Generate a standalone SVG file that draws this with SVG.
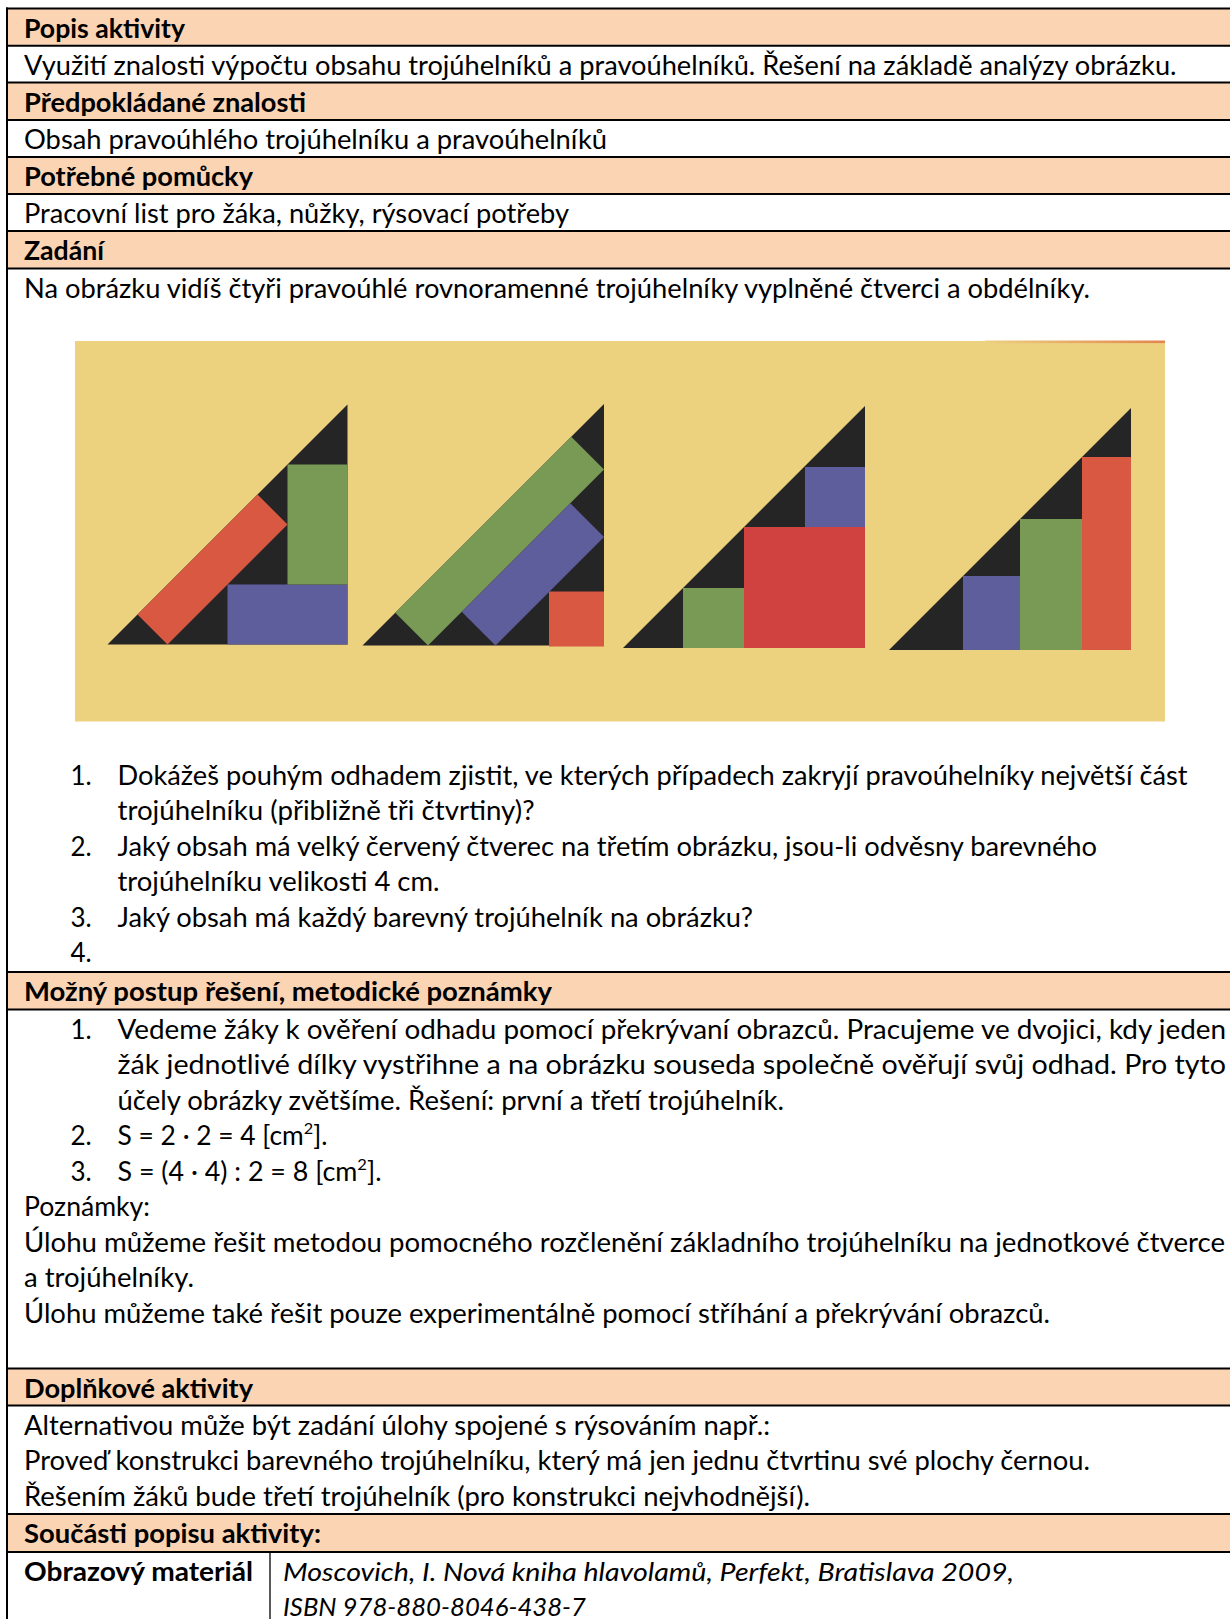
<svg xmlns="http://www.w3.org/2000/svg" width="1230" height="1619" viewBox="0 0 1230 1619">
<defs>
<style>
.t{font-family:Lato,"Liberation Sans",sans-serif;font-size:26px;fill:#000}
.h{font-family:Lato,"Liberation Sans",sans-serif;font-size:26px;font-weight:700;fill:#000}
.i{font-family:Lato,"Liberation Sans",sans-serif;font-size:26px;font-style:italic;fill:#000}
.hdr{fill:#FBD4B4}
.ln{stroke:#000;stroke-width:2;fill:none}
.blk{fill:#262526}
.g{fill:#789A55}
.b{fill:#5E5E9C}
.r{fill:#D85842}
</style>
<linearGradient id="topline" x1="0" y1="0" x2="1" y2="0">
<stop offset="0" stop-color="#ECD17F"/>
<stop offset="1" stop-color="#E2854E"/>
</linearGradient>
</defs>
<rect x="0" y="0" width="1230" height="1619" fill="#fff"/>

<g id="header-fills">
<rect class="hdr" x="7" y="8.5" width="1223" height="37.2"/>
<rect class="hdr" x="7" y="82.5" width="1223" height="37.5"/>
<rect class="hdr" x="7" y="157" width="1223" height="37"/>
<rect class="hdr" x="7" y="231" width="1223" height="37.5"/>
<rect class="hdr" x="7" y="972" width="1223" height="37.5"/>
<rect class="hdr" x="7" y="1368.5" width="1223" height="37"/>
<rect class="hdr" x="7" y="1514" width="1223" height="38"/>
</g>

<g id="table-lines">
<line class="ln" x1="7" y1="1619" x2="7" y2="7.5"/>
<line class="ln" x1="6" y1="8.5" x2="1230" y2="8.5"/>
<line class="ln" x1="6" y1="45.7" x2="1230" y2="45.7"/>
<line class="ln" x1="6" y1="82.5" x2="1230" y2="82.5"/>
<line class="ln" x1="6" y1="120" x2="1230" y2="120"/>
<line class="ln" x1="6" y1="157" x2="1230" y2="157"/>
<line class="ln" x1="6" y1="194" x2="1230" y2="194"/>
<line class="ln" x1="6" y1="231" x2="1230" y2="231"/>
<line class="ln" x1="6" y1="268.5" x2="1230" y2="268.5"/>
<line class="ln" x1="6" y1="972" x2="1230" y2="972"/>
<line class="ln" x1="6" y1="1009.5" x2="1230" y2="1009.5"/>
<line class="ln" x1="6" y1="1368.5" x2="1230" y2="1368.5"/>
<line class="ln" x1="6" y1="1405.5" x2="1230" y2="1405.5"/>
<line class="ln" x1="6" y1="1514" x2="1230" y2="1514"/>
<line class="ln" x1="6" y1="1552" x2="1230" y2="1552"/>
<line x1="270" y1="1552" x2="270" y2="1619" stroke="#000" stroke-width="1.3"/>
</g>

<g id="popis-aktivity">
<text class="h" x="24" y="37.5" textLength="161" lengthAdjust="spacingAndGlyphs">Popis aktivity</text>
<text class="t" x="24" y="74.7" textLength="1152.5" lengthAdjust="spacingAndGlyphs">Využití znalosti výpočtu obsahu trojúhelníků a pravoúhelníků. Řešení na základě analýzy obrázku.</text>
</g>

<g id="predpokladane-znalosti">
<text class="h" x="24" y="111.5" textLength="282" lengthAdjust="spacingAndGlyphs">Předpokládané znalosti</text>
<text class="t" x="24" y="149" textLength="583" lengthAdjust="spacingAndGlyphs">Obsah pravoúhlého trojúhelníku a pravoúhelníků</text>
</g>

<g id="potrebne-pomucky">
<text class="h" x="24" y="186" textLength="229" lengthAdjust="spacingAndGlyphs">Potřebné pomůcky</text>
<text class="t" x="24" y="223" textLength="545" lengthAdjust="spacingAndGlyphs">Pracovní list pro žáka, nůžky, rýsovací potřeby</text>
</g>

<g id="zadani">
<text class="h" x="24" y="260" textLength="80" lengthAdjust="spacingAndGlyphs">Zadání</text>
<text class="t" x="24" y="297.5" textLength="1066" lengthAdjust="spacingAndGlyphs">Na obrázku vidíš čtyři pravoúhlé rovnoramenné trojúhelníky vyplněné čtverci a obdélníky.</text>
</g>

<g id="picture">
<rect x="75" y="341" width="1090" height="380.5" fill="#ECD17F"/>
<rect x="985" y="340.5" width="180" height="2.6" fill="url(#topline)"/>
<g id="triangle-1">
<polygon class="blk" points="107.5,644.5 347.5,644.5 347.5,404.5"/>
<rect class="b" x="227.5" y="584.5" width="120" height="60"/>
<rect class="g" x="287.5" y="464.5" width="60" height="120"/>
<polygon class="r" points="167.5,644.5 287.5,524.5 257.5,494.5 137.5,614.5"/>
</g>
<g id="triangle-2">
<polygon class="blk" points="362.5,645.5 604,645.5 604,404"/>
<polygon class="g" points="428,645.5 604,469.5 571.25,436.75 395.25,612.75"/>
<polygon class="b" points="495.5,645.5 604,537 570.25,503.25 461.75,611.75"/>
<rect class="r" x="549" y="591.5" width="55" height="55"/>
</g>
<g id="triangle-3">
<polygon class="blk" points="623,648 865,648 865,406"/>
<rect class="g" x="683" y="588" width="61" height="60"/>
<rect x="744" y="527" width="121" height="121" fill="#D0423F"/>
<rect class="b" x="805" y="467" width="60" height="60"/>
</g>
<g id="triangle-4">
<polygon class="blk" points="889,650 1131,650 1131,408"/>
<rect class="b" x="963" y="576" width="57" height="74"/>
<rect class="g" x="1020" y="519" width="62" height="131"/>
<rect class="r" x="1082" y="457" width="49" height="193"/>
</g>
</g>

<g id="otazky">
<text class="t" x="70.5" y="784.5">1.</text>
<text class="t" x="117.5" y="784.5" textLength="1070" lengthAdjust="spacingAndGlyphs">Dokážeš pouhým odhadem zjistit, ve kterých případech zakryjí pravoúhelníky největší část</text>
<text class="t" x="117.5" y="820" textLength="417" lengthAdjust="spacingAndGlyphs">trojúhelníku (přibližně tři čtvrtiny)?</text>
<text class="t" x="70.5" y="855.5">2.</text>
<text class="t" x="117.5" y="855.5" textLength="979.5" lengthAdjust="spacingAndGlyphs">Jaký obsah má velký červený čtverec na třetím obrázku, jsou-li odvěsny barevného</text>
<text class="t" x="117.5" y="891" textLength="322" lengthAdjust="spacingAndGlyphs">trojúhelníku velikosti 4 cm.</text>
<text class="t" x="70.5" y="926.5">3.</text>
<text class="t" x="117.5" y="926.5" textLength="635.5" lengthAdjust="spacingAndGlyphs">Jaký obsah má každý barevný trojúhelník na obrázku?</text>
<text class="t" x="70.5" y="962">4.</text>
</g>

<g id="mozny-postup">
<text class="h" x="24" y="1001" textLength="528" lengthAdjust="spacingAndGlyphs">Možný postup řešení, metodické poznámky</text>
<text class="t" x="70.5" y="1038.5">1.</text>
<text class="t" x="117.5" y="1038.5" textLength="1108.5" lengthAdjust="spacingAndGlyphs">Vedeme žáky k ověření odhadu pomocí překrývaní obrazců. Pracujeme ve dvojici, kdy jeden</text>
<text class="t" x="117.5" y="1074" textLength="1108.5" lengthAdjust="spacingAndGlyphs">žák jednotlivé dílky vystřihne a na obrázku souseda společně ověřují svůj odhad. Pro tyto</text>
<text class="t" x="117.5" y="1109.5" textLength="666.5" lengthAdjust="spacingAndGlyphs">účely obrázky zvětšíme. Řešení: první a třetí trojúhelník.</text>
<text class="t" x="70.5" y="1145">2.</text>
<text class="t" x="117.5" y="1145" textLength="210" lengthAdjust="spacingAndGlyphs">S = 2 · 2 = 4 [cm<tspan font-size="16" dy="-11">2</tspan><tspan dy="11">].</tspan></text>
<text class="t" x="70.5" y="1180.5">3.</text>
<text class="t" x="117.5" y="1180.5" textLength="264" lengthAdjust="spacingAndGlyphs">S = (4 · 4) : 2 = 8 [cm<tspan font-size="16" dy="-11">2</tspan><tspan dy="11">].</tspan></text>
<text class="t" x="24" y="1216" textLength="126" lengthAdjust="spacingAndGlyphs">Poznámky:</text>
<text class="t" x="24" y="1251.5" textLength="1201" lengthAdjust="spacingAndGlyphs">Úlohu můžeme řešit metodou pomocného rozčlenění základního trojúhelníku na jednotkové čtverce</text>
<text class="t" x="24" y="1287" textLength="170" lengthAdjust="spacingAndGlyphs">a trojúhelníky.</text>
<text class="t" x="24" y="1322.5" textLength="1026" lengthAdjust="spacingAndGlyphs">Úlohu můžeme také řešit pouze experimentálně pomocí stříhání a překrývání obrazců.</text>
</g>

<g id="doplnkove-aktivity">
<text class="h" x="24" y="1397.5" textLength="229" lengthAdjust="spacingAndGlyphs">Doplňkové aktivity</text>
<text class="t" x="24" y="1434.5" textLength="746" lengthAdjust="spacingAndGlyphs">Alternativou může být zadání úlohy spojené s rýsováním např.:</text>
<text class="t" x="24" y="1470" textLength="1066" lengthAdjust="spacingAndGlyphs">Proveď konstrukci barevného trojúhelníku, který má jen jednu čtvrtinu své plochy černou.</text>
<text class="t" x="24" y="1505.5" textLength="786" lengthAdjust="spacingAndGlyphs">Řešením žáků bude třetí trojúhelník (pro konstrukci nejvhodnější).</text>
</g>

<g id="soucasti">
<text class="h" x="24" y="1543" textLength="297" lengthAdjust="spacingAndGlyphs">Součásti popisu aktivity:</text>
<text class="h" x="24" y="1581" textLength="229" lengthAdjust="spacingAndGlyphs">Obrazový materiál</text>
<text class="i" x="283" y="1581" textLength="731" lengthAdjust="spacingAndGlyphs">Moscovich, I. Nová kniha hlavolamů, Perfekt, Bratislava 2009,</text>
<text class="i" x="283" y="1616" textLength="303" lengthAdjust="spacingAndGlyphs">ISBN 978-880-8046-438-7</text>
</g>
</svg>
